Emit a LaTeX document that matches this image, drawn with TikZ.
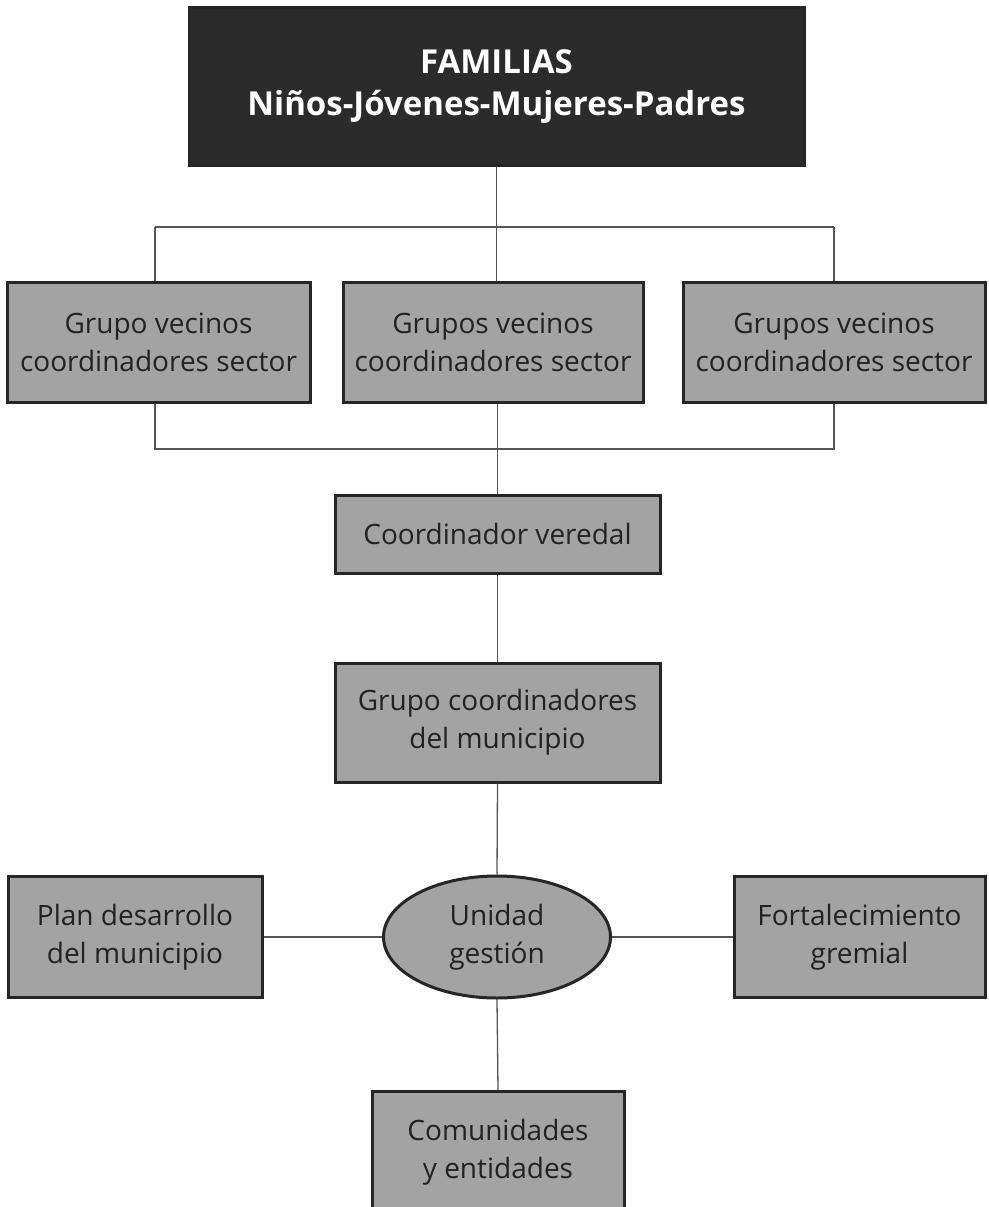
\documentclass[tikz,border=0pt]{standalone}
\usepackage{fontspec}
\setmainfont{Open Sans}
\usetikzlibrary{shapes.geometric}
\definecolor{boxgray}{HTML}{A3A3A3}
\definecolor{darkfill}{HTML}{2B2B2B}
\definecolor{txt}{HTML}{222222}
\definecolor{ln}{HTML}{555555}
\tikzset{
  gbox/.style={draw=black!85, line width=3pt, fill=boxgray, text=txt, align=center,
    inner sep=0pt, font=\fontsize{28}{38}\selectfont},
  topbox/.style={draw=black!85, line width=3pt, fill=darkfill, text=white, align=center,
    inner sep=0pt, font=\fontsize{33}{42}\selectfont\bfseries},
  conn/.style={draw=ln, line width=1.3pt},
}
\begin{document}
\begin{tikzpicture}[x=1pt,y=-1pt]
\useasboundingbox (0,0) rectangle (988,1207);
\clip (0,0) rectangle (988,1207);
\fill[white] (0,0) rectangle (988,1207);
% nodes
\node[topbox, minimum width=615, minimum height=157] (fam) at (496.5,86.5) {FAMILIAS\\Niños-Jóvenes-Mujeres-Padres};
\node[gbox, minimum width=303, minimum height=120] (g1) at (158.5,342) {Grupo vecinos\\coordinadores sector};
\node[gbox, minimum width=300, minimum height=120] (g2) at (493,342) {Grupos vecinos\\coordinadores sector};
\node[gbox, minimum width=302, minimum height=120] (g3) at (834,342) {Grupos vecinos\\coordinadores sector};
\node[gbox, minimum width=325, minimum height=78] (cv) at (497.5,534) {Coordinador veredal};
\node[gbox, minimum width=325, minimum height=119] (gc) at (497.5,722.5) {Grupo coordinadores\\del municipio};
\node[gbox, ellipse, minimum width=227, minimum height=122] (ug) at (497,937) {Unidad\\gestión};
\node[gbox, minimum width=254, minimum height=121] (pd) at (135,937) {Plan desarrollo\\del municipio};
\node[gbox, minimum width=251, minimum height=121] (fg) at (859.5,937) {Fortalecimiento\\gremial};
\node[gbox, minimum width=252, minimum height=140, anchor=north] (ce) at (498,1090) {};
\node[text=txt, align=center, font=\fontsize{28}{38}\selectfont] (cet) at (498,1152) {Comunidades\\y entidades};
% connector coordinates
\coordinate (tl) at (155,227);
\coordinate (tr) at (834,227);
\coordinate (bl) at (155,449);
\coordinate (br) at (834,449);
% connectors
\draw[conn] (tl) -- (tr);
\draw[conn] (tl) -- (tl |- g1.north);
\draw[conn] (tr) -- (tr |- g3.north);
\draw[conn] (fam.south) -- (fam.south |- g2.north);
\draw[conn] (bl |- g1.south) -- (bl) -- (br) -- (br |- g3.south);
\draw[conn] (cv.north) -- (cv.north |- g2.south);
\draw[conn] (cv.south) -- (gc.north);
\draw[conn] (gc.south) -- (ug.north);
\draw[conn] (ug.south) -- (ce.north);
\draw[conn] (pd.east) -- (ug.west);
\draw[conn] (ug.east) -- (fg.west);
\end{tikzpicture}
\end{document}
